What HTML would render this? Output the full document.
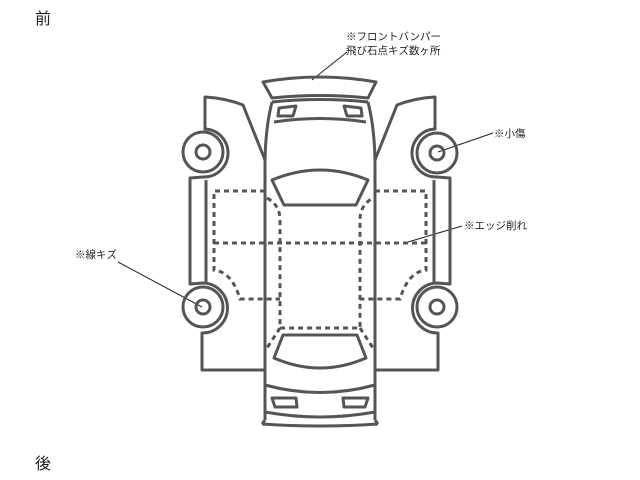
<!DOCTYPE html>
<html><head><meta charset="utf-8"><style>
html,body{margin:0;padding:0;background:#fff;width:640px;height:480px;overflow:hidden}
svg{display:block}
text{font-family:"Liberation Sans","Noto Sans CJK JP",sans-serif;fill:#222}
</style></head><body>
<svg width="640" height="480" viewBox="0 0 640 480" xmlns="http://www.w3.org/2000/svg">
<text x="35" y="24" font-size="16">前</text>
<text x="35" y="469" font-size="16">後</text>
<text x="346" y="40" font-size="10.5">※フロントバンパー</text>
<text x="346" y="54" font-size="10.5">飛び石点キズ数ヶ所</text>
<text x="494" y="137" font-size="10.5">※小傷</text>
<text x="464" y="229" font-size="10.5">※エッジ削れ</text>
<text x="75" y="258" font-size="10.5">※線キズ</text>
<g stroke="#222" stroke-width="1" fill="none">
<line x1="347" y1="52" x2="312" y2="80"/>
<line x1="493" y1="133" x2="438" y2="152"/>
<line x1="462" y1="226" x2="408" y2="242"/>
<line x1="118" y1="262" x2="202" y2="307"/>
</g>
<g stroke="#555" stroke-width="3" fill="none" stroke-linejoin="round">
<!-- spoiler -->
<path d="M263,82 Q320,72 376,82 L368,98 Q320,93 272,98 Z"/>
<path d="M272,102 Q320,97 368,102"/>
<!-- body -->
<path d="M272,102 Q265,130 265,165 L265,420 M368,102 Q375,130 375,165 L375,420"/>
<path d="M274,122 Q320,115 366,122"/>
<path d="M279,108 L296,106 L293,116 L278,116 Z"/>
<path d="M344,106 L361,108 L362,116 L347,116 Z"/>
<!-- windshield -->
<path d="M272,180 Q320,160 368,180 L356,205 L284,205 Z"/>
<!-- rear window -->
<path d="M283,335 L357,335 L366,358 Q320,378 274,358 Z"/>
<path d="M265,385 Q320,400 375,385"/>
<path d="M272,398 L296,398 L297,407 L275,407 Z"/>
<path d="M343,398 L368,398 L365,407 L344,407 Z"/>
<path d="M265,412 Q320,422 375,412"/>
<path d="M262,424 Q320,428 378,424 M265,420 L262,424 M375,420 L378,424"/>
<!-- left doors -->
<path d="M265,160 L243,105 Q225,98 205,97 L205,129 A24,24 0 0 1 203,177 L190,178 L190,284 L203,283 A24,24 0 0 1 202,333 L202,370 L265,370"/>
<path d="M206,180 L206,282"/>
<circle cx="203" cy="152" r="20"/><circle cx="203" cy="152" r="7"/>
<circle cx="203" cy="307" r="20"/><circle cx="203" cy="307" r="7"/>
<!-- right doors -->
<path d="M375,160 L397,105 Q415,98 435,97 L435,129 A24,24 0 0 0 437,177 L450,178 L450,284 L437,283 A24,24 0 0 0 438,333 L438,370 L375,370"/>
<path d="M434,180 L434,282"/>
<circle cx="437" cy="153" r="20"/><circle cx="437" cy="153" r="7"/>
<circle cx="437" cy="307" r="20"/><circle cx="437" cy="307" r="7"/>
</g>
<g stroke="#555" stroke-width="3" fill="none" stroke-dasharray="5,4">
<path d="M265,191 L214,191 L214,270 Q232,272 240,299 L280,299"/>
<path d="M375,191 L426,191 L426,270 Q408,272 400,299 L360,299"/>
<path d="M214,243 L426,243"/>
<path d="M267,198 Q280,205 280,220 L280,328 L360,328 L360,220 Q360,205 373,198"/>
<path d="M280,328 L267,348 M360,328 L373,348"/>
</g>
</svg>
</body></html>
